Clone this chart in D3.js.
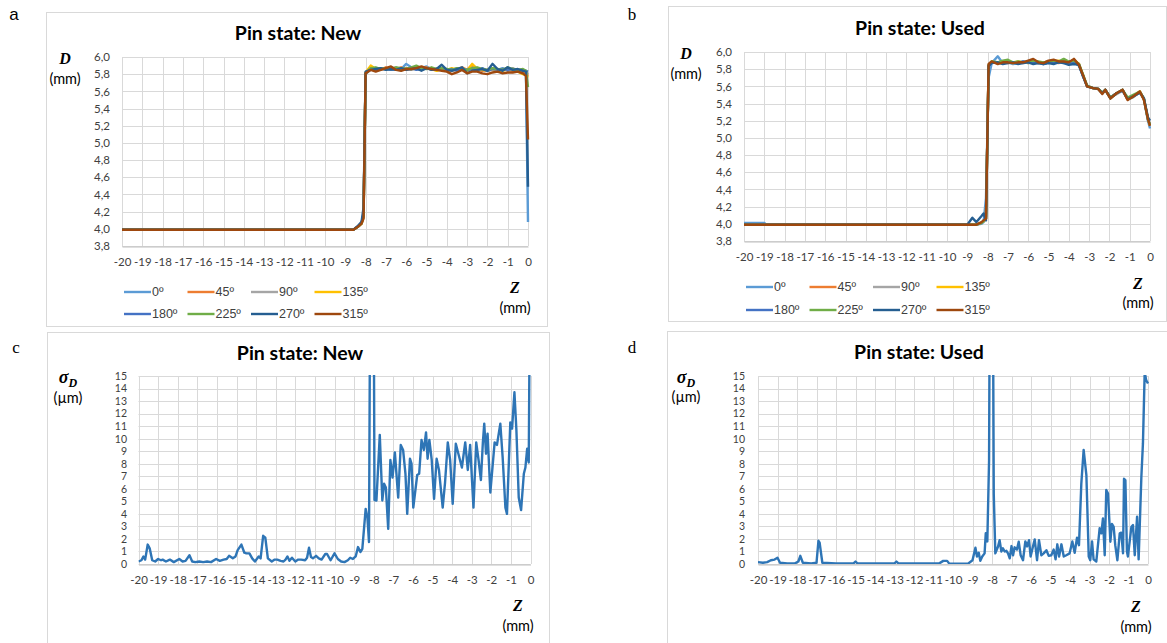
<!DOCTYPE html>
<html>
<head>
<meta charset="utf-8">
<script src="https://cdn.jsdelivr.net/npm/d3@7"></script>
<style>
  body { margin: 0; background: #fff; }
  text { font-family: Lato, "Open Sans", sans-serif; }
</style>
</head>
<body>
<svg id="chart" width="1167" height="643"></svg>
<script>
// ---- data ----
var zTicks = [-20,-19,-18,-17,-16,-15,-14,-13,-12,-11,-10,-9,-8,-7,-6,-5,-4,-3,-2,-1,0];
var dTicks = [3.8,4.0,4.2,4.4,4.6,4.8,5.0,5.2,5.4,5.6,5.8,6.0];
var sTicks = [0,1,2,3,4,5,6,7,8,9,10,11,12,13,14,15];
var angles = ["0º","45º","90º","135º","180º","225º","270º","315º"];

// diameter, new pin (mm), one value per zNew point
var zNew = [-20,-8.6,-8.4,-8.2,-8.1,-8.0,-7.75,-7.5,-7.25,-7.0,-6.75,-6.5,-6.25,-6.0,-5.75,-5.5,-5.25,-5.0,-4.75,-4.5,-4.25,-4.0,-3.75,-3.5,-3.25,-3.0,-2.75,-2.5,-2.25,-2.0,-1.75,-1.5,-1.25,-1.0,-0.75,-0.5,-0.25,-0.1,0];
var new0   = [3.99,3.99,4.02,4.07,4.18,5.80,5.86,5.85,5.87,5.86,5.85,5.87,5.86,5.92,5.88,5.86,5.87,5.89,5.86,5.85,5.86,5.84,5.86,5.85,5.87,5.84,5.88,5.85,5.86,5.84,5.86,5.85,5.87,5.84,5.86,5.85,5.84,5.82,4.08];
var new45  = [3.99,3.99,4.02,4.06,4.15,5.81,5.87,5.86,5.85,5.88,5.86,5.86,5.88,5.85,5.87,5.88,5.86,5.88,5.85,5.86,5.87,5.85,5.84,5.86,5.88,5.85,5.91,5.86,5.84,5.85,5.86,5.84,5.85,5.86,5.84,5.85,5.83,5.81,5.78];
var new90  = [3.99,3.99,4.02,4.06,4.16,5.80,5.86,5.87,5.86,5.85,5.87,5.88,5.86,5.87,5.85,5.86,5.88,5.87,5.85,5.87,5.86,5.84,5.85,5.87,5.86,5.85,5.87,5.84,5.86,5.85,5.87,5.85,5.86,5.85,5.87,5.84,5.85,5.83,5.80];
var new135 = [3.99,3.99,4.02,4.06,4.15,5.82,5.90,5.86,5.87,5.86,5.88,5.86,5.85,5.87,5.86,5.88,5.85,5.87,5.86,5.84,5.86,5.85,5.87,5.85,5.86,5.84,5.92,5.86,5.85,5.84,5.86,5.85,5.84,5.86,5.85,5.83,5.80,5.79,5.76];
var new180 = [3.99,3.99,4.02,4.07,4.17,5.81,5.86,5.85,5.86,5.87,5.85,5.86,5.87,5.86,5.88,5.85,5.86,5.87,5.86,5.85,5.87,5.85,5.86,5.84,5.86,5.85,5.86,5.85,5.87,5.84,5.86,5.85,5.86,5.85,5.86,5.84,5.85,5.84,5.83];
var new225 = [3.99,3.99,4.02,4.06,4.15,5.81,5.87,5.88,5.86,5.87,5.86,5.88,5.87,5.86,5.88,5.90,5.87,5.86,5.88,5.86,5.87,5.86,5.85,5.87,5.86,5.85,5.87,5.88,5.86,5.85,5.87,5.86,5.85,5.88,5.86,5.85,5.86,5.84,5.65];
var new270 = [3.99,3.99,4.03,4.08,4.25,5.83,5.85,5.86,5.87,5.85,5.86,5.85,5.87,5.85,5.86,5.87,5.84,5.87,5.85,5.86,5.91,5.85,5.84,5.86,5.88,5.81,5.84,5.85,5.86,5.84,5.92,5.86,5.84,5.88,5.85,5.86,5.84,5.83,4.49];
var new315 = [3.99,3.99,4.02,4.06,4.12,5.81,5.85,5.83,5.85,5.87,5.89,5.85,5.84,5.86,5.86,5.87,5.89,5.87,5.86,5.85,5.84,5.83,5.80,5.82,5.85,5.81,5.83,5.83,5.81,5.80,5.82,5.83,5.81,5.82,5.82,5.83,5.81,5.78,5.04];

// diameter, used pin (mm), one value per zUsed point
var zUsed = [-20,-19,-18.9,-9.0,-8.75,-8.55,-8.3,-8.2,-8.08,-7.95,-7.8,-7.5,-7.25,-7.0,-6.75,-6.5,-6.25,-6.0,-5.75,-5.5,-5.25,-5.0,-4.75,-4.5,-4.25,-4.0,-3.75,-3.5,-3.3,-3.1,-2.8,-2.55,-2.35,-2.2,-1.95,-1.65,-1.35,-1.1,-0.85,-0.5,-0.3,-0.1,0];
var used0   = [4.01,4.01,3.99,3.99,3.99,3.99,4.00,4.02,4.30,5.70,5.87,5.95,5.87,5.88,5.86,5.87,5.89,5.87,5.88,5.87,5.86,5.88,5.87,5.89,5.88,5.87,5.88,5.84,5.72,5.60,5.58,5.57,5.52,5.56,5.47,5.52,5.55,5.45,5.48,5.53,5.45,5.20,5.11];
var used45  = [3.99,3.99,3.99,3.99,3.99,3.99,4.01,4.03,4.06,5.84,5.88,5.87,5.88,5.87,5.88,5.87,5.88,5.89,5.88,5.87,5.88,5.89,5.88,5.87,5.89,5.88,5.90,5.86,5.73,5.60,5.58,5.57,5.52,5.56,5.46,5.52,5.55,5.45,5.48,5.54,5.45,5.22,5.15];
var used90  = [3.99,3.99,3.99,3.99,3.99,3.99,4.01,4.03,4.07,5.83,5.88,5.88,5.87,5.89,5.87,5.88,5.87,5.88,5.89,5.87,5.88,5.87,5.89,5.88,5.87,5.88,5.89,5.86,5.72,5.61,5.58,5.57,5.52,5.55,5.47,5.51,5.55,5.45,5.47,5.53,5.45,5.21,5.15];
var used135 = [3.99,3.99,3.99,3.99,3.99,3.99,4.01,4.03,4.06,5.84,5.89,5.87,5.89,5.88,5.87,5.89,5.88,5.87,5.89,5.88,5.87,5.88,5.89,5.90,5.88,5.87,5.91,5.86,5.73,5.60,5.58,5.57,5.52,5.56,5.46,5.52,5.56,5.45,5.48,5.54,5.45,5.22,5.15];
var used180 = [3.99,3.99,3.99,3.99,3.99,3.99,4.01,4.04,4.08,5.83,5.88,5.88,5.87,5.88,5.88,5.87,5.89,5.88,5.87,5.88,5.86,5.88,5.87,5.88,5.89,5.87,5.88,5.85,5.72,5.60,5.58,5.57,5.52,5.56,5.47,5.52,5.55,5.45,5.48,5.53,5.46,5.21,5.16];
var used225 = [3.99,3.99,3.99,3.99,3.99,3.99,4.01,4.03,4.06,5.85,5.89,5.88,5.90,5.91,5.88,5.89,5.88,5.89,5.90,5.89,5.88,5.89,5.90,5.89,5.92,5.89,5.90,5.86,5.74,5.61,5.58,5.57,5.53,5.56,5.47,5.52,5.56,5.47,5.50,5.54,5.46,5.22,5.15];
var used270 = [3.99,3.99,3.99,3.99,4.07,4.02,4.09,4.12,4.04,5.84,5.87,5.88,5.86,5.87,5.88,5.86,5.87,5.88,5.86,5.87,5.86,5.87,5.86,5.88,5.87,5.85,5.86,5.85,5.72,5.60,5.58,5.57,5.52,5.56,5.46,5.52,5.56,5.45,5.48,5.53,5.46,5.24,5.20];
var used315 = [3.99,3.99,3.99,3.99,3.99,3.99,4.02,4.04,4.06,5.86,5.89,5.86,5.88,5.88,5.87,5.88,5.88,5.90,5.92,5.88,5.87,5.90,5.91,5.89,5.89,5.88,5.92,5.85,5.73,5.60,5.58,5.57,5.51,5.56,5.46,5.52,5.56,5.44,5.48,5.54,5.44,5.22,5.14];

// standard deviation of D (µm), [z, sigma]
var sigmaNew = [[-20,0.2],[-19.85,0.3],[-19.75,0.6],[-19.66,0.35],[-19.53,1.55],[-19.43,1.25],[-19.3,0.3],[-19.15,0.2],[-19.0,0.4],[-18.85,0.3],[-18.77,0.35],[-18.6,0.2],[-18.4,0.35],[-18.2,0.15],[-17.92,0.4],[-17.75,0.2],[-17.6,0.25],[-17.4,0.7],[-17.26,0.2],[-17.1,0.15],[-16.9,0.2],[-16.7,0.15],[-16.5,0.2],[-16.3,0.15],[-16.04,0.4],[-15.85,0.25],[-15.66,0.35],[-15.5,0.4],[-15.38,0.65],[-15.19,0.45],[-15.05,0.6],[-14.94,1.1],[-14.75,1.55],[-14.6,0.9],[-14.5,0.85],[-14.34,0.85],[-14.2,0.45],[-14.06,0.2],[-13.87,0.6],[-13.77,0.45],[-13.64,2.25],[-13.53,2.1],[-13.4,0.45],[-13.2,0.2],[-13.05,0.35],[-12.92,0.35],[-12.75,0.25],[-12.6,0.2],[-12.5,0.35],[-12.4,0.6],[-12.3,0.25],[-12.17,0.5],[-12.0,0.2],[-11.85,0.35],[-11.7,0.35],[-11.5,0.3],[-11.4,0.5],[-11.3,1.3],[-11.2,0.55],[-11.1,0.45],[-10.94,0.65],[-10.8,0.45],[-10.66,0.35],[-10.47,0.8],[-10.38,0.8],[-10.2,0.3],[-10.0,0.85],[-9.83,0.4],[-9.66,0.2],[-9.49,0.15],[-9.32,0.3],[-9.2,0.5],[-9.06,0.4],[-8.92,0.6],[-8.8,1.35],[-8.68,0.95],[-8.58,1.2],[-8.41,4.4],[-8.32,3.7],[-8.24,1.75],[-8.13,40],[-8.04,40],[-7.96,5.1],[-7.86,5.07],[-7.69,10.3],[-7.56,5.07],[-7.47,6.4],[-7.38,6.1],[-7.26,2.8],[-7.15,8.3],[-7.04,6.9],[-6.92,8.9],[-6.75,5.3],[-6.62,9.5],[-6.5,9.1],[-6.38,7.2],[-6.29,4.0],[-6.15,8.4],[-6.07,8.0],[-5.98,4.5],[-5.78,7.1],[-5.68,7.2],[-5.56,9.9],[-5.44,9.1],[-5.33,10.5],[-5.25,8.4],[-5.16,9.9],[-5.04,8.3],[-4.92,5.2],[-4.79,8.4],[-4.67,7.5],[-4.48,4.5],[-4.36,6.5],[-4.22,9.7],[-4.1,8.3],[-3.97,4.8],[-3.81,9.6],[-3.68,8.8],[-3.5,7.7],[-3.33,9.7],[-3.2,7.5],[-3.08,9.5],[-2.91,4.5],[-2.77,9.7],[-2.65,8.3],[-2.53,6.7],[-2.43,9.7],[-2.36,11.2],[-2.27,8.8],[-2.19,10.4],[-2.05,5.7],[-1.83,9.7],[-1.71,9.5],[-1.54,11.2],[-1.42,8.5],[-1.28,4.5],[-1.2,4.0],[-1.03,11.3],[-0.94,10.8],[-0.82,13.7],[-0.72,10.7],[-0.6,5.3],[-0.48,4.3],[-0.34,7.2],[-0.26,7.7],[-0.17,9.2],[-0.09,8.1],[-0.03,22],[0,22]];
var sigmaUsed = [[-20,0.15],[-19.75,0.1],[-19.53,0.15],[-19.34,0.3],[-19.15,0.35],[-19.0,0.5],[-18.87,0.1],[-18.5,0.05],[-18.1,0.05],[-17.93,0.2],[-17.83,0.65],[-17.7,0.1],[-17.27,0.05],[-17.0,0.1],[-16.9,1.85],[-16.84,1.7],[-16.7,0.1],[-16.0,0.05],[-15.1,0.05],[-15.0,0.2],[-14.9,0.05],[-13.0,0.05],[-12.9,0.2],[-12.8,0.05],[-10.7,0.05],[-10.5,0.25],[-10.3,0.25],[-10.2,0.05],[-9.23,0.02],[-9.0,0.3],[-8.85,1.3],[-8.77,0.6],[-8.68,0.9],[-8.6,0.25],[-8.5,0.6],[-8.38,0.85],[-8.32,2.45],[-8.24,1.8],[-8.15,8.3],[-8.07,40],[-8.0,40],[-7.91,5.6],[-7.83,0.85],[-7.69,1.4],[-7.61,1.9],[-7.52,1.0],[-7.44,1.25],[-7.35,1.0],[-7.26,1.05],[-7.18,0.85],[-7.09,0.45],[-7.0,1.43],[-6.92,0.7],[-6.84,1.33],[-6.72,1.15],[-6.63,1.78],[-6.53,0.7],[-6.41,0.3],[-6.29,1.8],[-6.2,1.4],[-6.1,1.9],[-6.02,0.6],[-5.9,1.4],[-5.81,1.96],[-5.69,0.3],[-5.59,1.9],[-5.47,0.7],[-5.35,0.85],[-5.21,1.1],[-5.09,0.65],[-4.96,0.7],[-4.84,1.15],[-4.74,0.37],[-4.65,1.57],[-4.56,0.6],[-4.44,1.57],[-4.32,0.6],[-4.19,0.7],[-4.02,0.85],[-3.88,1.8],[-3.76,0.9],[-3.64,2.1],[-3.54,1.5],[-3.42,6.4],[-3.3,9.1],[-3.16,7.1],[-3.04,0.6],[-2.96,0.3],[-2.87,1.8],[-2.79,0.37],[-2.65,0.2],[-2.48,2.85],[-2.39,2.45],[-2.31,3.64],[-2.22,0.7],[-2.14,5.9],[-2.05,5.63],[-1.93,1.78],[-1.85,3.2],[-1.76,2.97],[-1.68,1.5],[-1.57,0.3],[-1.45,2.44],[-1.37,2.5],[-1.28,0.85],[-1.23,6.8],[-1.16,6.7],[-1.08,1.0],[-1.03,0.6],[-0.85,2.97],[-0.77,3.1],[-0.68,0.7],[-0.56,3.77],[-0.48,0.37],[-0.34,6.96],[-0.26,9.6],[-0.17,15.3],[-0.09,14.65],[0,14.4]];

// ---- styles ----
var colors = ["#5b9bd5","#ed7d31","#a5a5a5","#ffc000","#4472c4","#70ad47","#255e91","#9e480e"];
var sigmaColor = "#2e75b6";
var gridColor = "#d9d9d9";
var textColor = "#404040";

var svg = d3.select("#chart");
var defs = svg.append("defs");
var commaFmt = function(d) { return d3.format(".1f")(d).replace(".", ","); };
var hyphenFmt = function(d) { return String(d); };   // plain hyphen, not U+2212

function drawPanel(L, opt) {
  var g = svg.append("g");
  g.append("rect")
    .attr("x", L.frame[0] + 0.5).attr("y", L.frame[1] + 0.5)
    .attr("width", L.frame[2]).attr("height", L.frame[3])
    .attr("fill", "#fff").attr("stroke", gridColor);

  var x = d3.scaleLinear().domain([-20, 0]).range([L.plot[0], L.plot[1]]);
  var y = d3.scaleLinear().domain(opt.yDomain).range([L.plot[3], L.plot[2]]);

  // gridlines
  g.append("g").selectAll("line").data(zTicks).join("line")
    .attr("x1", d => Math.round(x(d)) + 0.5).attr("x2", d => Math.round(x(d)) + 0.5)
    .attr("y1", L.plot[2]).attr("y2", L.plot[3])
    .attr("stroke", gridColor);
  g.append("g").selectAll("line").data(opt.yTicks).join("line")
    .attr("x1", L.plot[0]).attr("x2", L.plot[1])
    .attr("y1", d => Math.round(y(d)) + 0.5).attr("y2", d => Math.round(y(d)) + 0.5)
    .attr("stroke", gridColor);

  // axes
  var xAxis = d3.axisBottom(x).tickValues(zTicks).tickFormat(hyphenFmt)
    .tickSize(0).tickSizeOuter(0).tickPadding(11);
  g.append("g")
    .attr("transform", "translate(0," + (Math.round(L.plot[3]) + 0.5) + ")")
    .call(xAxis)
    .attr("font-family", "Lato, sans-serif").attr("font-size", 11.5)
    .call(a => a.select(".domain").attr("stroke", "#bfbfbf"))
    .call(a => a.selectAll("text").attr("fill", textColor));

  var yAxis = d3.axisLeft(y).tickValues(opt.yTicks).tickFormat(opt.fmt)
    .tickSize(0).tickPadding(L.plot[0] - L.yTickX);
  g.append("g")
    .attr("transform", "translate(" + L.plot[0] + ",0)")
    .call(yAxis)
    .attr("font-family", "Lato, sans-serif").attr("font-size", opt.sigma ? 10.5 : 11.5)
    .call(a => a.select(".domain").remove())
    .call(a => a.selectAll("text").attr("fill", textColor));

  // series
  defs.append("clipPath").attr("id", "clip-" + L.id)
    .append("rect")
    .attr("x", L.plot[0]).attr("y", L.plot[2] - 1)
    .attr("width", L.plot[1] - L.plot[0] + 2).attr("height", L.plot[3] - L.plot[2] + 1);
  var line = d3.line().x(d => x(d[0])).y(d => y(d[1]));
  g.append("g").attr("clip-path", "url(#clip-" + L.id + ")")
    .selectAll("path").data(opt.series).join("path")
    .attr("d", s => line(s.points))
    .attr("fill", "none")
    .attr("stroke", s => s.color)
    .attr("stroke-width", 2.4)
    .attr("stroke-linejoin", "round");

  // title
  g.append("text").attr("x", L.title[0]).attr("y", L.title[1]).attr("dy", "0.35em")
    .attr("text-anchor", "middle").attr("font-weight", 700).attr("font-size", 19.5)
    .attr("fill", "#000").text(opt.title);

  // panel letter
  g.append("text").attr("x", L.letter[0]).attr("y", L.letter[1]).attr("dy", "0.35em")
    .attr("text-anchor", "middle").attr("font-size", 17)
    .style("font-family", L.id === "a" ? "Liberation Sans, sans-serif" : "Liberation Serif, serif")
    .attr("fill", "#000").text(L.id);

  // axis titles
  var yl = g.append("text").attr("x", L.yLab[0]).attr("y", L.yLab[1]).attr("dy", "0.35em")
    .attr("text-anchor", "middle").attr("font-weight", 700).attr("font-style", "italic")
    .attr("font-size", 16).style("font-family", "Liberation Serif, serif").attr("fill", "#000");
  if (opt.sigma) {
    yl.append("tspan").attr("font-size", 18).text("σ");
    yl.append("tspan").attr("font-size", 12).attr("dy", 4).text("D");
  } else {
    yl.text("D");
  }
  g.append("text").attr("x", L.yUnit[0]).attr("y", L.yUnit[1]).attr("dy", "0.35em")
    .attr("text-anchor", "middle").attr("font-size", 14.5).attr("fill", "#000")
    .text(opt.sigma ? "(µm)" : "(mm)");
  g.append("text").attr("x", L.zLab[0]).attr("y", L.zLab[1]).attr("dy", "0.35em")
    .attr("text-anchor", "middle").attr("font-weight", 700).attr("font-style", "italic")
    .attr("font-size", 16).style("font-family", "Liberation Serif, serif").attr("fill", "#000")
    .text("Z");
  g.append("text").attr("x", L.zLab[0]).attr("y", L.zUnit).attr("dy", "0.35em")
    .attr("text-anchor", "middle").attr("font-size", 14.5).attr("fill", "#000")
    .text("(mm)");

  // legend
  if (L.legend) {
    var items = g.append("g").selectAll("g").data(opt.series).join("g")
      .attr("transform", (s, i) => "translate(" + (L.legend.x + (i % 4) * L.legend.dx) + "," + L.legend.y[Math.floor(i / 4)] + ")");
    items.append("line").attr("x1", 0).attr("x2", 27).attr("y1", 0).attr("y2", 0)
      .attr("stroke", s => s.color).attr("stroke-width", 2.4);
    items.append("text").attr("x", 28).attr("dy", "0.35em").attr("font-size", 12.5)
      .style("font-family", "Liberation Sans, Arial, sans-serif")
      .attr("fill", textColor).text(s => s.name);
  }
}

function profileSeries(zs, arrays) {
  return arrays.map((vals, i) => ({
    name: angles[i], color: colors[i],
    points: zs.map((z, k) => [z, vals[k]])
  }));
}

drawPanel(
  { id: "a", frame: [46, 12, 501, 314], plot: [122, 528, 57, 246], yTickX: 110,
    title: [298, 33], letter: [14, 14], yLab: [65, 58], yUnit: [65, 79],
    zLab: [515, 287], zUnit: 308, legend: { x: 124, dx: 63.5, y: [292, 314] } },
  { yDomain: [3.8, 6.0], yTicks: dTicks, fmt: commaFmt, title: "Pin state: New",
    series: profileSeries(zNew, [new0, new45, new90, new135, new180, new225, new270, new315]) });

drawPanel(
  { id: "b", frame: [668, 6, 498, 315], plot: [744, 1150, 52, 241], yTickX: 732,
    title: [920, 28], letter: [632, 14], yLab: [686, 53], yUnit: [686, 74],
    zLab: [1138, 283], zUnit: 303, legend: { x: 746, dx: 63.5, y: [287, 310] } },
  { yDomain: [3.8, 6.0], yTicks: dTicks, fmt: commaFmt, title: "Pin state: Used",
    series: profileSeries(zUsed, [used0, used45, used90, used135, used180, used225, used270, used315]) });

drawPanel(
  { id: "c", frame: [47, 332, 502, 320], plot: [138.5, 530.5, 376, 564], yTickX: 127,
    title: [300, 353], letter: [16, 347], yLab: [68, 377], yUnit: [68, 398],
    zLab: [518, 605], zUnit: 626 },
  { yDomain: [0, 15], yTicks: sTicks, fmt: d3.format("d"), title: "Pin state: New", sigma: true,
    series: [{ name: "σ", color: sigmaColor, points: sigmaNew }] });

drawPanel(
  { id: "d", frame: [667, 331, 510, 320], plot: [758, 1148, 376, 564], yTickX: 745,
    title: [919, 352], letter: [632, 347], yLab: [686, 377], yUnit: [686, 397],
    zLab: [1136, 606], zUnit: 627 },
  { yDomain: [0, 15], yTicks: sTicks, fmt: d3.format("d"), title: "Pin state: Used", sigma: true,
    series: [{ name: "σ", color: sigmaColor, points: sigmaUsed }] });
</script>
</body>
</html>
